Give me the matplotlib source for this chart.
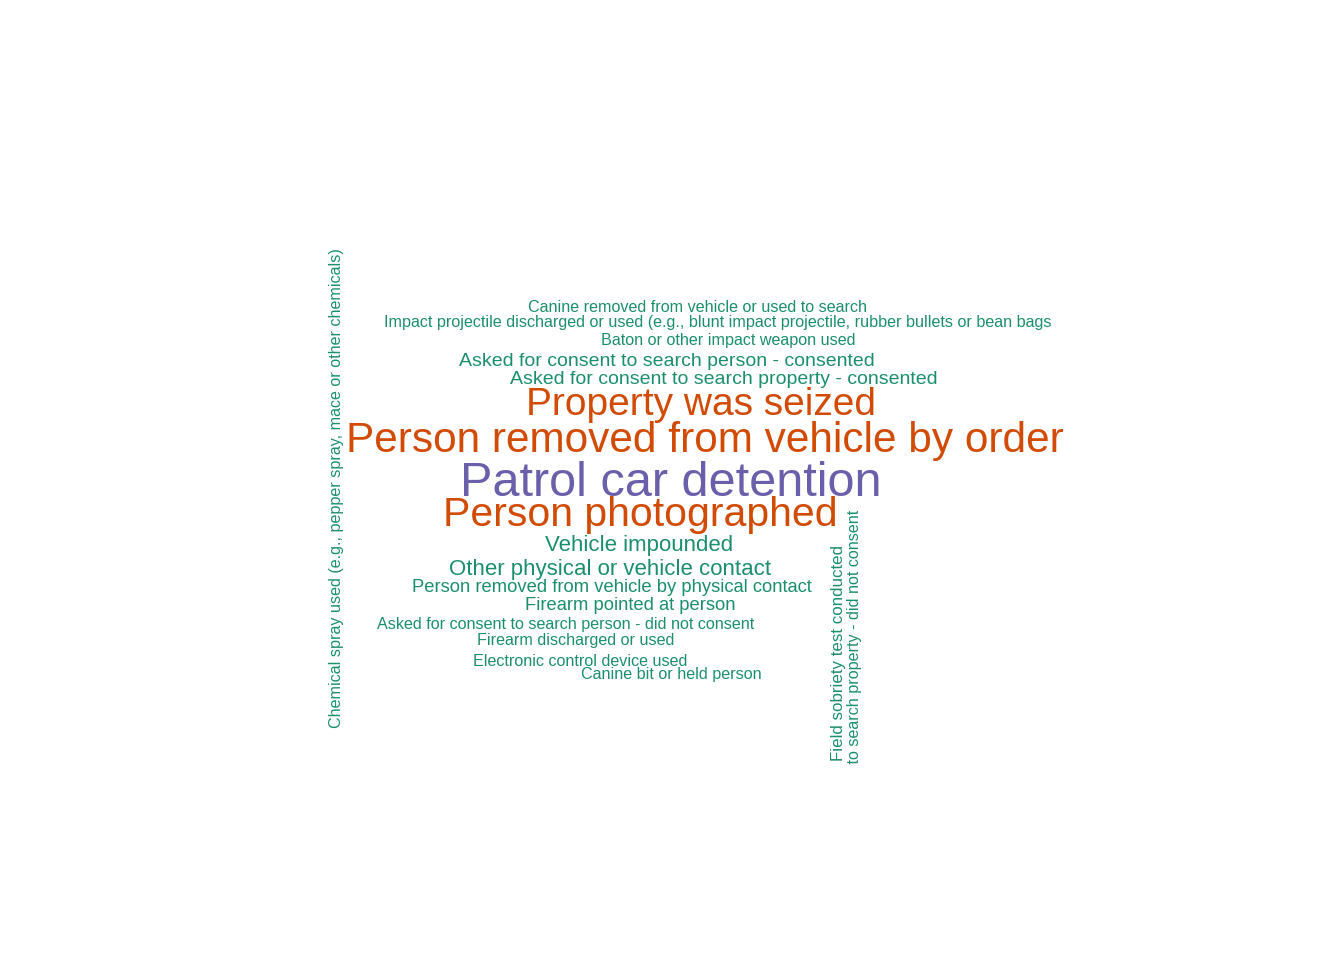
import matplotlib.pyplot as plt
from matplotlib.patches import Rectangle

# words of the cloud, their size class and colour group
words = [
    "Patrol car detention",
    "Person removed from vehicle by order",
    "Person photographed",
    "Property was seized",
    "Vehicle impounded",
    "Other physical or vehicle contact",
    "Asked for consent to search person - consented",
    "Asked for consent to search property - consented",
    "Person removed from vehicle by physical contact",
    "Firearm pointed at person",
    "Field sobriety test conducted",
    "Canine removed from vehicle or used to search",
    "Impact projectile discharged or used (e.g., blunt impact projectile, rubber bullets or bean bags",
    "Baton or other impact weapon used",
    "Asked for consent to search person - did not consent",
    "Firearm discharged or used",
    "Electronic control device used",
    "Canine bit or held person",
    "Chemical spray used (e.g., pepper spray, mace or other chemicals)",
    "Asked for consent to search property - did not consent",
]
sizes = [35, 30.5, 29.5, 28, 16, 16, 14, 14, 13.2, 13.2, 12.2, 11.6, 11.6, 11.6, 11.6, 11.6, 11.6, 11.6, 11.6, 11.6]
groups = [2, 1, 1, 1, 0, 0, 0, 0, 0, 0, 0, 0, 0, 0, 0, 0, 0, 0, 0, 0]
palette = ["#1B8F6C", "#D24B05", "#6A5FAA"]

# layout of the cloud in pixels (x, y, rotation, vertical anchor)
layout = [
    (671, 484, 0, "center"), (705, 441, 0, "center"), (640, 515, 0, "center"),
    (701, 405, 0, "center"), (639, 546, 0, "center"), (610, 569, 0, "center"),
    (667, 361, 0, "center"), (724, 379, 0, "center"), (612, 588, 0, "center"),
    (630, 606, 0, "center"), (838, 545, 90, "top"), (697, 308, 0, "center"),
    (718, 322, 0, "center"), (728, 340, 0, "center"), (566, 625, 0, "center"),
    (576, 641, 0, "center"), (580, 662, 0, "center"), (671, 675, 0, "center"),
    (336, 488, 90, "center"), (854, 510, 90, "top"),
]

plt.rcParams["font.family"] = ["Liberation Sans", "DejaVu Sans"]
fig = plt.figure(figsize=(13.44, 9.6), dpi=100)
ax = fig.add_axes([0, 0, 1, 1])
ax.set_xlim(0, 1344)
ax.set_ylim(960, 0)
ax.axis("off")

for w, s, g, (x, y, rot, va) in zip(words, sizes, groups, layout):
    ax.text(x, y, w, fontsize=s, color=palette[g], rotation=rot,
            ha="center", va=va, rotation_mode="anchor" if rot == 0 else "default")

# cloud area ends here, longer words get cut off
ax.add_patch(Rectangle((0, 766), 1344, 200, color="white", zorder=10))

fig.savefig("out.png", dpi=100)
